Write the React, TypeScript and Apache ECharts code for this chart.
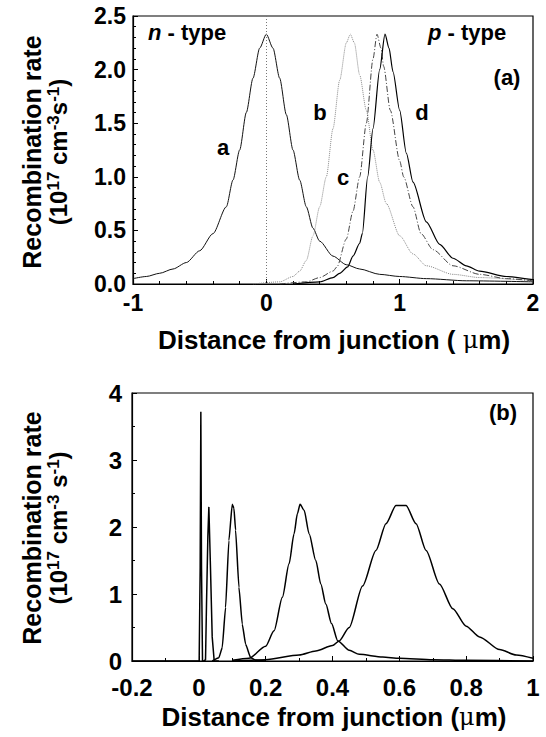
import React, { useEffect, useRef } from "react";
import * as echarts from "echarts";

// Panel (a): recombination rate vs distance, curves a-d
const curveA: number[][] = [
  [-1.0, 0.05], [-0.9, 0.07], [-0.8, 0.1], [-0.7, 0.14], [-0.6, 0.2], [-0.5, 0.31],
  [-0.4, 0.47], [-0.3, 0.72], [-0.25, 0.97], [-0.2, 1.25], [-0.15, 1.6], [-0.1, 1.92],
  [-0.05, 2.2], [0.0, 2.33], [0.05, 2.2], [0.1, 1.92], [0.15, 1.58], [0.2, 1.25],
  [0.25, 0.97], [0.3, 0.72], [0.35, 0.52], [0.4, 0.4], [0.5, 0.26], [0.6, 0.18],
  [0.7, 0.14], [0.85, 0.09], [1.0, 0.07], [1.2, 0.05], [1.5, 0.03], [2.0, 0.02],
];
const curveB: number[][] = [
  [-0.1, 0.0], [0.1, 0.02], [0.2, 0.07], [0.25, 0.12], [0.3, 0.22], [0.35, 0.45],
  [0.4, 0.72], [0.45, 1.0], [0.5, 1.45], [0.55, 1.9], [0.6, 2.25], [0.63, 2.33],
  [0.66, 2.25], [0.7, 1.95], [0.75, 1.62], [0.8, 1.25], [0.85, 0.95], [0.9, 0.75],
  [1.0, 0.45], [1.1, 0.28], [1.2, 0.17], [1.4, 0.09], [1.6, 0.06], [2.0, 0.03],
];
const curveC: number[][] = [
  [0.1, 0.0], [0.3, 0.02], [0.4, 0.06], [0.5, 0.12], [0.53, 0.16], [0.6, 0.42],
  [0.65, 0.68], [0.7, 1.0], [0.75, 1.5], [0.8, 2.1], [0.83, 2.33], [0.86, 2.2],
  [0.88, 2.03], [0.93, 1.62], [1.0, 1.15], [1.03, 1.0], [1.1, 0.72], [1.16, 0.47],
  [1.25, 0.32], [1.4, 0.17], [1.6, 0.09], [1.8, 0.05], [2.0, 0.03],
];
const curveD: number[][] = [
  [0.2, 0.0], [0.4, 0.02], [0.5, 0.06], [0.55, 0.1], [0.61, 0.16], [0.65, 0.26],
  [0.7, 0.38], [0.72, 0.47], [0.76, 1.0], [0.8, 1.45], [0.85, 2.0], [0.89, 2.33],
  [0.92, 2.2], [0.95, 1.98], [1.0, 1.62], [1.05, 1.22], [1.1, 0.95], [1.2, 0.58],
  [1.3, 0.37], [1.4, 0.24], [1.5, 0.17], [1.6, 0.12], [1.8, 0.07], [2.0, 0.04],
];

// Panel (b): five peaks
const peak1: number[][] = [
  [-0.2, 0.0], [0.001, 0.0], [0.004, 1.4], [0.006, 3.72], [0.008, 1.4], [0.011, 0.0], [0.02, 0.0],
];
const peak2: number[][] = [
  [0.015, 0.0], [0.02, 0.02], [0.023, 0.86], [0.027, 1.86], [0.03, 2.3], [0.035, 1.36],
  [0.04, 0.36], [0.046, 0.0], [0.06, 0.0],
];
const peak3: number[][] = [
  [0.04, 0.0], [0.06, 0.05], [0.07, 0.2], [0.08, 0.8], [0.09, 1.8], [0.1, 2.34],
  [0.105, 2.28], [0.11, 1.95], [0.12, 1.1], [0.13, 0.55], [0.14, 0.25], [0.155, 0.05],
  [0.17, 0.01], [0.2, 0.0],
];
const peak4: number[][] = [
  [0.1, 0.01], [0.15, 0.04], [0.2, 0.22], [0.225, 0.45], [0.25, 0.95], [0.27, 1.45],
  [0.285, 1.9], [0.295, 2.2], [0.303, 2.34], [0.315, 2.25], [0.33, 1.9], [0.35, 1.5],
  [0.365, 1.15], [0.38, 0.85], [0.397, 0.56], [0.416, 0.3], [0.45, 0.16], [0.48, 0.1],
  [0.55, 0.06], [0.6, 0.04], [0.7, 0.02], [0.8, 0.01], [1.0, 0.0],
];
const peak5: number[][] = [
  [0.1, 0.0], [0.2, 0.02], [0.3, 0.09], [0.35, 0.15], [0.4, 0.23], [0.42, 0.3],
  [0.45, 0.5], [0.49, 1.12], [0.53, 1.65], [0.56, 2.05], [0.59, 2.32], [0.62, 2.32],
  [0.65, 2.05], [0.68, 1.65], [0.72, 1.15], [0.76, 0.78], [0.8, 0.52], [0.84, 0.36],
  [0.9, 0.17], [0.95, 0.09], [1.0, 0.04],
];

const topXTicks = { min: -1, max: 2, interval: 1 };
const topYTicks = { min: 0, max: 2.5, interval: 0.5 };
const botXTicks = { min: -0.2, max: 1, interval: 0.2 };
const botYTicks = { min: 0, max: 4, interval: 1 };

const FONT = "'Liberation Sans', Arial, Helvetica, sans-serif";

export default function App() {
  const ref = useRef<HTMLDivElement>(null);
  useEffect(() => {
    if (!ref.current) return;
    const chart = echarts.init(ref.current, undefined, { renderer: "svg" });
    const labelStyle = (fs: number) => ({ color: "#000", fontFamily: FONT, fontWeight: "bold" as const, fontSize: fs });
    const axisLine = { show: true, onZero: false, lineStyle: { color: "#000", width: 1.2 } };
    const tick = { show: true, inside: true, length: 5, lineStyle: { color: "#000" } };
    const minorTick = { show: true, splitNumber: 5, length: 3, lineStyle: { color: "#000" } };
    const lineS = (data: number[][], color: string, type: any, width: number, xi: number, smooth: any = 0.25) => ({
      type: "line",
      data,
      xAxisIndex: xi,
      yAxisIndex: xi,
      showSymbol: false,
      smooth,
      smoothMonotone: "x",
      lineStyle: { color, type, width },
      z: 3,
    });
    const supRich = {
      n: { fontFamily: FONT, fontWeight: "bold", fontSize: 24, fill: "#000" },
      s: { fontFamily: FONT, fontWeight: "bold", fontSize: 17, fill: "#000", padding: [0, 0, 9, 0] },
    };
    const yTitle = (cy: number, second: string) => [
      {
        type: "text",
        x: 32,
        y: cy,
        rotation: Math.PI / 2,
        style: {
          text: "Recombination rate",
          fill: "#000",
          font: `bold 25px ${FONT}`,
          align: "center",
          verticalAlign: "middle",
        },
      },
      {
        type: "text",
        x: 58,
        y: cy,
        rotation: Math.PI / 2,
        style: {
          text: second,
          fill: "#000",
          align: "center",
          verticalAlign: "middle",
          rich: supRich,
        },
      },
    ];
    const xTitle = (cy: number, gap: string) => ({
      type: "text",
      x: 334,
      y: cy,
      style: {
        text: `{n|Distance from junction (${gap}}{m|μ}{n|m)}`,
        fill: "#000",
        align: "center",
        verticalAlign: "middle",
        rich: {
          n: { fontFamily: FONT, fontWeight: "bold", fontSize: 26, fill: "#000" },
          m: { fontFamily: "'DejaVu Serif', serif", fontWeight: "normal", fontSize: 24, fill: "#000" },
        },
      },
    });
    const txt = (x: number, y: number, text: string, align = "center", rich?: any) => ({
      type: "text",
      x,
      y,
      style: {
        text,
        fill: "#000",
        font: `bold 22px ${FONT}`,
        align,
        verticalAlign: "middle",
        rich,
      },
    });
    const typeRich = {
      i: { fontFamily: FONT, fontWeight: "bold", fontStyle: "italic", fontSize: 22, fill: "#000" },
      n: { fontFamily: FONT, fontWeight: "bold", fontSize: 22, fill: "#000" },
    };

    chart.setOption({
      animation: false,
      backgroundColor: "#fff",
      grid: [
        { left: 133, top: 16, width: 400, height: 268, show: true, borderColor: "#000", borderWidth: 1.2 },
        { left: 132, top: 393, width: 401, height: 268, show: true, borderColor: "#000", borderWidth: 1.2 },
      ],
      xAxis: [
        {
          type: "value", gridIndex: 0, ...topXTicks,
          axisLine, axisTick: tick, minorTick,
          splitLine: { show: false },
          axisLabel: { ...labelStyle(23), margin: 7, formatter: (v: number) => String(v) },
        },
        {
          type: "value", gridIndex: 1, ...botXTicks,
          axisLine, axisTick: tick, minorTick: { ...minorTick, splitNumber: 2 },
          splitLine: { show: false },
          axisLabel: { ...labelStyle(24), margin: 14, formatter: (v: number) => String(Math.round(v * 10) / 10) },
        },
      ],
      yAxis: [
        {
          type: "value", gridIndex: 0, ...topYTicks,
          axisLine, axisTick: tick, minorTick,
          splitLine: { show: false },
          axisLabel: { ...labelStyle(23), margin: 7, formatter: (v: number) => v.toFixed(1) },
        },
        {
          type: "value", gridIndex: 1, ...botYTicks,
          axisLine, axisTick: tick, minorTick: { ...minorTick, splitNumber: 2 },
          splitLine: { show: false },
          axisLabel: { ...labelStyle(24), margin: 10, formatter: (v: number) => String(v) },
        },
      ],
      series: [
        {
          ...lineS(curveA, "#111", "solid", 1, 0),
          markLine: {
            silent: true,
            symbol: "none",
            label: { show: false },
            lineStyle: { color: "#777", type: [1, 2], width: 1 },
            data: [{ xAxis: 0 }],
          },
        },
        lineS(curveB, "#888", "dotted", 1, 0),
        lineS(curveC, "#444", [6, 2, 1, 2], 1, 0),
        lineS(curveD, "#000", "solid", 1.2, 0),
        lineS(peak1, "#000", "solid", 1.5, 1, false),
        lineS(peak2, "#000", "solid", 1.5, 1, false),
        lineS(peak3, "#000", "solid", 1.5, 1, 0.15),
        lineS(peak4, "#000", "solid", 1.5, 1),
        lineS(peak5, "#000", "solid", 1.5, 1),
      ],
      graphic: [
        ...yTitle(152, "{n|(10}{s|17}{n| cm}{s|-3}{n|s}{s|-1}{n|)}"),
        ...yTitle(528, "{n|(10}{s|17}{n| cm}{s|-3}{n| s}{s|-1}{n|)}"),
        xTitle(340, " "),
        xTitle(717, ""),
        txt(148, 32, "{i|n}{n| - type}", "left", typeRich),
        txt(428, 32, "{i|p}{n| - type}", "left", typeRich),
        txt(507, 77, "(a)"),
        txt(223, 147, "a"),
        txt(320, 112, "b"),
        txt(343, 177, "c"),
        txt(422, 112, "d"),
        txt(503, 412, "(b)"),
      ],
    });
    return () => chart.dispose();
  }, []);
  return (
    <div
      ref={ref}
      style={{ position: "fixed", left: 0, top: 0, width: 546, height: 737, background: "#fff" }}
    />
  );
}
